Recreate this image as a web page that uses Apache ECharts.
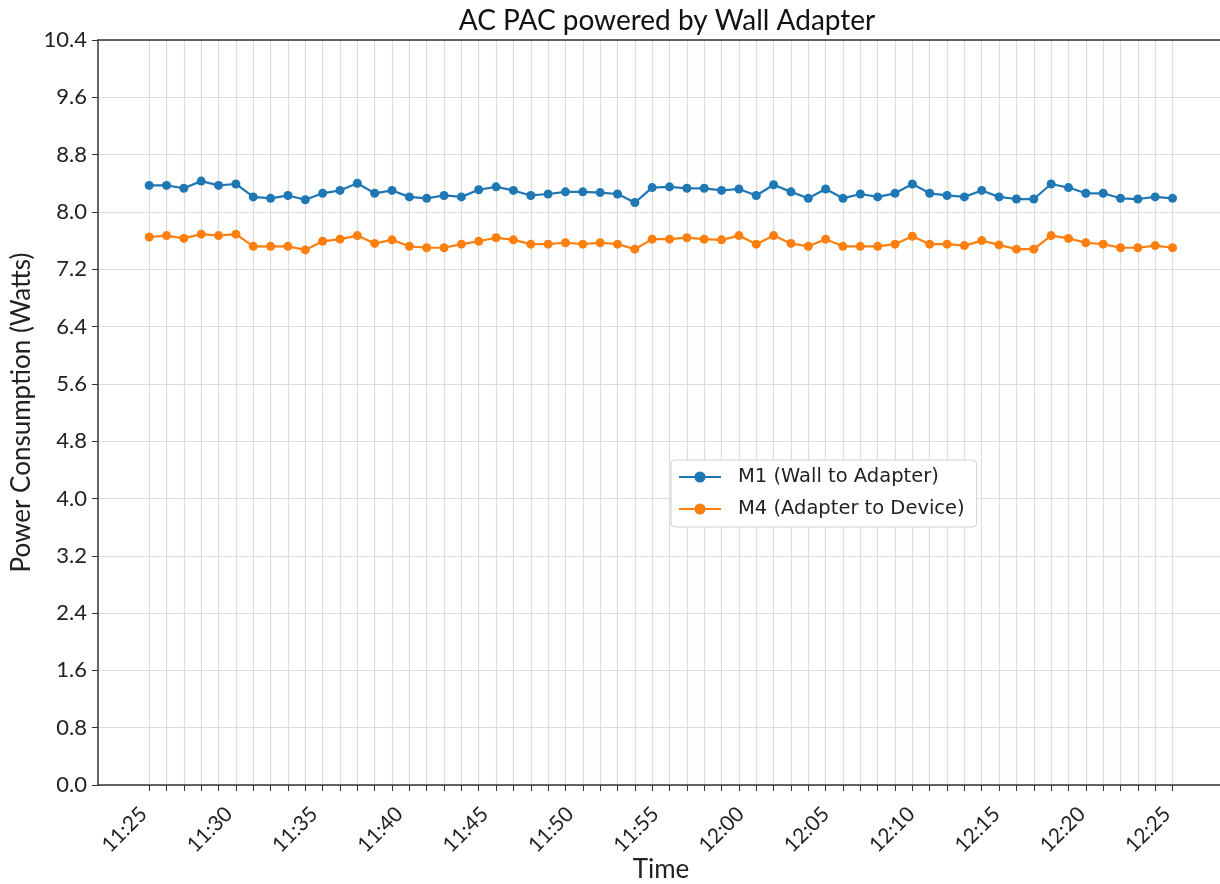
<!DOCTYPE html>
<html>
<head>
<meta charset="utf-8">
<script src="https://cdn.jsdelivr.net/npm/echarts@6/dist/echarts.min.js"></script>
<style>
  html, body { margin: 0; padding: 0; background: #fff; }
  #chart { width: 1220px; height: 884px; }
</style>
</head>
<body>
<div id="chart"></div>
<script>
// sample times (one reading every ~61 s)
const times = [
  '11:25:00', '11:26:01', '11:27:02', '11:28:03', '11:29:04', '11:30:05', '11:31:06', '11:32:07', '11:33:08', '11:34:09',
  '11:35:10', '11:36:11', '11:37:12', '11:38:13', '11:39:14', '11:40:15', '11:41:16', '11:42:17', '11:43:18', '11:44:19',
  '11:45:20', '11:46:21', '11:47:22', '11:48:23', '11:49:24', '11:50:25', '11:51:26', '11:52:27', '11:53:28', '11:54:29',
  '11:55:30', '11:56:31', '11:57:32', '11:58:33', '11:59:34', '12:00:35', '12:01:36', '12:02:37', '12:03:38', '12:04:39',
  '12:05:40', '12:06:41', '12:07:42', '12:08:43', '12:09:44', '12:10:45', '12:11:46', '12:12:47', '12:13:48', '12:14:49',
  '12:15:50', '12:16:51', '12:17:52', '12:18:53', '12:19:54', '12:20:55', '12:21:56', '12:22:57', '12:23:58', '12:24:59'
];

// M1 (Wall to Adapter)
const m1Watts = [
  8.37, 8.37, 8.33, 8.43, 8.37, 8.39, 8.21, 8.19, 8.23, 8.17,
  8.26, 8.30, 8.40, 8.26, 8.30, 8.21, 8.19, 8.23, 8.21, 8.31,
  8.35, 8.30, 8.23, 8.25, 8.28, 8.28, 8.27, 8.25, 8.13, 8.34,
  8.35, 8.33, 8.33, 8.30, 8.32, 8.23, 8.38, 8.28, 8.19, 8.32,
  8.19, 8.25, 8.21, 8.26, 8.39, 8.26, 8.23, 8.21, 8.30, 8.21,
  8.18, 8.18, 8.39, 8.34, 8.26, 8.26, 8.19, 8.18, 8.21, 8.19
];

// M4 (Adapter to Device)
const m4Watts = [
  7.65, 7.67, 7.63, 7.69, 7.67, 7.69, 7.52, 7.52, 7.52, 7.47,
  7.59, 7.62, 7.67, 7.56, 7.61, 7.52, 7.50, 7.50, 7.55, 7.59,
  7.64, 7.61, 7.55, 7.55, 7.57, 7.55, 7.57, 7.55, 7.48, 7.62,
  7.62, 7.64, 7.62, 7.61, 7.67, 7.55, 7.67, 7.56, 7.52, 7.62,
  7.52, 7.52, 7.52, 7.55, 7.66, 7.55, 7.55, 7.53, 7.60, 7.54,
  7.48, 7.48, 7.67, 7.63, 7.57, 7.55, 7.50, 7.50, 7.53, 7.50
];

const tickLabels = ['11:25', '11:30', '11:35', '11:40', '11:45', '11:50', '11:55',
  '12:00', '12:05', '12:10', '12:15', '12:20', '12:25'];

// convert clock strings to minutes after the first reading
function toMinutes(t) {
  const p = t.split(':').map(Number);
  return p[0] * 60 + p[1] + (p[2] || 0) / 60;
}
const t0 = toMinutes(times[0]);
const xs = times.map(t => toMinutes(t) - t0);
const labelXs = tickLabels.map(t => toMinutes(t) - t0);

const chart = echarts.init(document.getElementById('chart'), null, { renderer: 'canvas' });

const axisColor = '#333';
const gridColor = '#dcdcdc';
const textColor = '#222';
const labelFont = 'Lato';

function labelFor(v) {
  for (let i = 0; i < labelXs.length; i++) {
    if (Math.abs(labelXs[i] - v) < 1e-6) return tickLabels[i];
  }
  return '';
}

const option = {
  animation: false,
  backgroundColor: '#fff',
  color: ['#1f77b4', '#ff7f0e'],
  title: {
    text: 'AC PAC powered by Wall Adapter',
    left: 662,
    top: 2,
    textAlign: 'center',
    textStyle: { fontFamily: labelFont, fontSize: 28, fontWeight: 'normal', color: '#111' }
  },
  grid: { left: 98, top: 40, width: 1126, height: 745, outerBoundsMode: 'none', containLabel: false },
  legend: {
    orient: 'vertical',
    left: 671,
    top: 460,
    padding: [7, 12, 8, 7],
    itemWidth: 42,
    itemHeight: 14,
    itemGap: 12,
    backgroundColor: '#fff',
    borderColor: '#cfcfcf',
    borderWidth: 1,
    borderRadius: 4,
    textStyle: { fontFamily: 'DejaVu Sans', fontSize: 19.5, color: textColor, padding: [0, 0, 0, 12] },
    data: ['M1 (Wall to Adapter)', 'M4 (Adapter to Device)']
  },
  xAxis: [{
    type: 'value',
    min: -3,
    max: 63,
    name: 'Time',
    nameLocation: 'middle',
    nameGap: 72,
    nameMoveOverlap: false,
    nameTextStyle: { fontFamily: labelFont, fontSize: 26, color: textColor },
    axisLine: { show: true, onZero: false, lineStyle: { color: axisColor, width: 1.5 } },
    axisTick: { show: true, length: 6, customValues: xs, lineStyle: { color: axisColor } },
    axisLabel: {
      customValues: labelXs,
      rotate: 45,
      margin: 20,
      padding: [0, 8, 0, 0],
      fontFamily: labelFont,
      fontSize: 21,
      color: textColor,
      formatter: v => labelFor(v)
    },
    splitLine: { show: true, lineStyle: { color: gridColor, width: 1.2 } }
  }, {
    type: 'value',
    position: 'top',
    min: -3,
    max: 63,
    axisLine: { show: true, onZero: false, lineStyle: { color: axisColor, width: 1.5 } },
    axisTick: { show: false },
    axisLabel: { show: false },
    splitLine: { show: false }
  }],
  yAxis: {
    type: 'value',
    min: 0,
    max: 10.4,
    interval: 0.8,
    name: 'Power Consumption (Watts)',
    nameLocation: 'middle',
    nameGap: 63,
    nameMoveOverlap: false,
    nameTextStyle: { fontFamily: labelFont, fontSize: 26, color: textColor },
    axisLine: { show: true, onZero: false, lineStyle: { color: axisColor, width: 1.5 } },
    axisTick: { show: true, length: 6, lineStyle: { color: axisColor } },
    axisLabel: {
      margin: 11,
      fontFamily: labelFont,
      fontSize: 22,
      color: textColor,
      formatter: v => v.toFixed(1)
    },
    splitLine: { show: true, lineStyle: { color: gridColor, width: 1.2 } }
  },
  series: [{
    name: 'M1 (Wall to Adapter)',
    type: 'line',
    xAxisIndex: 0,
    data: xs.map((x, i) => [x, m1Watts[i]]),
    symbol: 'circle',
    symbolSize: 9,
    lineStyle: { width: 2.2 },
    itemStyle: { color: '#1f77b4' }
  }, {
    name: 'M4 (Adapter to Device)',
    type: 'line',
    xAxisIndex: 0,
    data: xs.map((x, i) => [x, m4Watts[i]]),
    symbol: 'circle',
    symbolSize: 9,
    lineStyle: { width: 2.2 },
    itemStyle: { color: '#ff7f0e' }
  }]
};

chart.setOption(option);
</script>
</body>
</html>
